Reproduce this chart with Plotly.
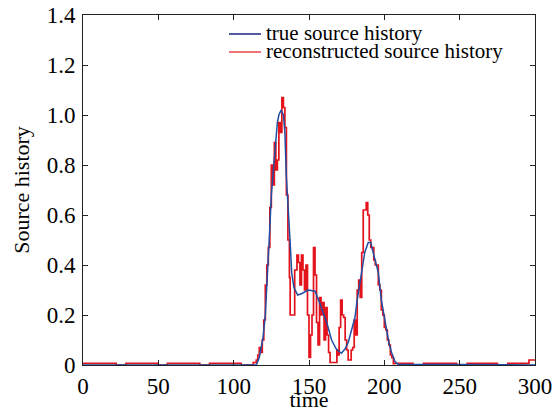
import plotly.graph_objects as go

# ---- data ----
true_t = [0, 112, 115, 117, 118.5, 119.5, 121, 122, 123, 124, 125, 126.3, 127.5, 129, 130,
          131.5, 133, 134, 135, 136, 137.4, 138.5, 140, 142.5, 145, 149.5, 154, 157, 159.5,
          162, 165, 168, 171.5, 174, 176, 178, 180.5, 182, 184, 187, 189.3, 191, 192.6,
          194.5, 196, 198, 200, 201.5, 203, 204.8, 207, 209, 300]
true_v = [0, 0, 0.0, 0.03, 0.07, 0.11, 0.2, 0.3, 0.43, 0.55, 0.68, 0.78, 0.88, 0.97, 1.0,
          1.02, 1.0, 0.93, 0.75, 0.62, 0.5, 0.37, 0.31, 0.28, 0.285, 0.3, 0.295, 0.25, 0.21,
          0.165, 0.1, 0.065, 0.047, 0.065, 0.09, 0.13, 0.19, 0.26, 0.33, 0.45, 0.49, 0.49, 0.45,
          0.41, 0.37, 0.26, 0.19, 0.14, 0.09, 0.05, 0.015, 0.003, 0]

rec_t = [0, 22, 28.5, 49.5, 56, 77.5, 84, 105, 113, 115, 116, 117, 118, 119, 120, 121, 122,
         123, 124, 125, 126, 127, 128, 129, 130, 131, 132, 133, 134, 135, 136, 137, 137.5,
         140.5, 142, 143, 144, 145, 146, 147, 148, 149, 150, 151, 152, 153, 154, 155, 156,
         157, 158, 159, 160, 161, 162, 163, 164, 168.5, 169, 170, 171, 172, 173, 174, 175,
         176, 178, 179, 180, 181, 182, 183, 184, 185, 186, 187, 188, 189, 190, 191, 192, 193,
         194, 195, 196, 197, 198, 199, 200, 201, 202, 203, 204, 205, 206, 207, 219, 226, 248,
         255, 275, 282, 296, 300]
rec_v = [0.007, 0, 0.007, 0, 0.007, 0, 0.007, 0, 0.01, 0.02, 0.04, 0.07, 0.05, 0.1, 0.18,
         0.32, 0.4, 0.47, 0.63, 0.8, 0.72, 0.89, 0.78, 0.82, 0.97, 0.93, 1.07, 1.03, 0.95,
         0.68, 0.5, 0.35, 0.2, 0.38, 0.44, 0.41, 0.32, 0.44, 0.38, 0.3, 0.4, 0.2, 0.03, 0.12,
         0.2, 0.47, 0.36, 0.17, 0.08, 0.27, 0.2, 0.25, 0.1, 0.23, 0.12, 0.05, 0.01, 0.06, 0.04,
         0.15, 0.26, 0.2, 0.19, 0.1, 0.06, 0.02, 0.06, 0.07, 0.18, 0.12, 0.3, 0.34, 0.27, 0.45,
         0.62, 0.62, 0.65, 0.6, 0.5, 0.47, 0.47, 0.42, 0.4, 0.4, 0.32, 0.3, 0.22, 0.2, 0.15,
         0.14, 0.1, 0.08, 0.04, 0.03, 0.005, 0.007, 0, 0.007, 0, 0.007, 0, 0.007, 0.02, 0.02]

x_ticks = [0, 50, 100, 150, 200, 250, 300]
y_ticks = [0, 0.2, 0.4, 0.6, 0.8, 1.0, 1.2, 1.4]
y_ticktext = ["0", "0.2", "0.4", "0.6", "0.8", "1.0", "1.2", "1.4"]
legend_names = ["true source history", "reconstructed source history"]

BLUE = "#1f4ea3"
RED = "#e3121b"
FONT = "Liberation Serif, Times New Roman, serif"

fig = go.Figure()
fig.add_trace(go.Scatter(x=rec_t, y=rec_v, mode="lines", line=dict(color=RED, width=1.7, shape="hv"),
                         name=legend_names[1], showlegend=False))
fig.add_trace(go.Scatter(x=true_t, y=true_v, mode="lines", line=dict(color=BLUE, width=1.5),
                         name=legend_names[0], showlegend=False))

W, H = 558, 412
L, R, T, B = 83, 23, 15, 47
pw, ph = W - L - R, H - T - B


def px(x):
    return (x - L) / pw


def py(y):
    return (H - B - y) / ph


# manual legend
for i, (name, col) in enumerate(zip(legend_names, ["#1a237e", "#ee4444"])):
    yy = 34 + 18 * i
    fig.add_shape(type="line", xref="paper", yref="paper", x0=px(229), x1=px(261),
                  y0=py(yy), y1=py(yy), line=dict(color=col, width=1.5))
    fig.add_annotation(xref="paper", yref="paper", x=px(264), y=py(yy - 1), text=name,
                       showarrow=False, xanchor="left", yanchor="middle",
                       font=dict(family=FONT, size=21, color="black"))

axis_common = dict(showline=True, linecolor="#222", linewidth=1, mirror="ticks", ticks="inside",
                   ticklen=5, tickcolor="#222", showgrid=False, zeroline=False, automargin=False,
                   tickfont=dict(family=FONT, size=23, color="black"))

fig.update_layout(
    width=W, height=H,
    margin=dict(l=L, r=R, t=T, b=B),
    paper_bgcolor="white", plot_bgcolor="white",
    xaxis=dict(range=[0, 300], tickvals=x_ticks, ticklabelstandoff=0,
               title=dict(text="time", font=dict(family=FONT, size=22, color="black"), standoff=2),
               **axis_common),
    yaxis=dict(range=[0, 1.4], tickvals=y_ticks, ticktext=y_ticktext, ticklabelstandoff=2,
               title=dict(text="Source history", font=dict(family=FONT, size=22, color="black"), standoff=10),
               **axis_common),
)

fig.write_html("out.html")
